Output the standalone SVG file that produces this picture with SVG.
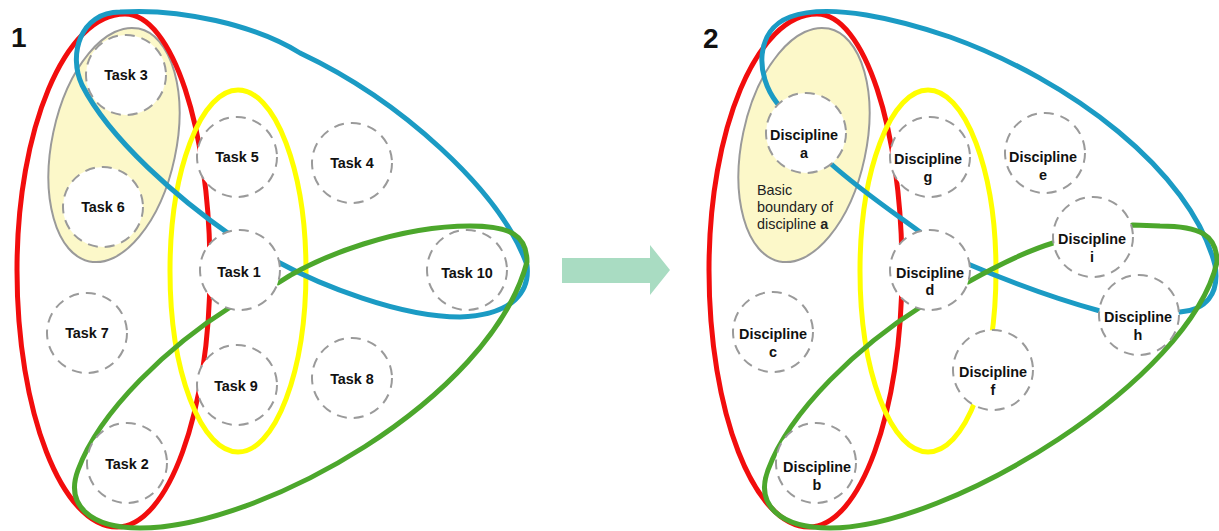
<svg xmlns="http://www.w3.org/2000/svg" width="1219" height="531" viewBox="0 0 1219 531">
  <style>
    .bg { fill: #ffffff; }
    .basic { fill: #fcf8c9; stroke: #9a9a9a; stroke-width: 2; }
    .loop { fill: none; stroke-width: 5; stroke-linejoin: round; stroke-linecap: round; }
    .red { stroke: #f20d0d; }
    .yellow { stroke: #ffff00; }
    .blue { stroke: #1b9bc4; }
    .green { stroke: #4ca72c; }
    .node circle { fill: #ffffff; stroke: #9a9a9a; stroke-width: 2; stroke-dasharray: 10 7; }
    .label { font-family: "Liberation Sans", Arial, sans-serif; font-size: 14.4px; font-weight: bold; fill: #111111; text-anchor: middle; }
    .note { font-family: "Liberation Sans", Arial, sans-serif; font-size: 14.4px; fill: #222222; }
    .num { font-family: "Liberation Sans", Arial, sans-serif; font-size: 28px; font-weight: bold; fill: #111111; }
    .arrow { fill: #a9dcc2; }
  </style>

  <rect class="bg" x="0" y="0" width="1219" height="531"/>

  <!-- panel numbers -->
  <text class="num" x="11" y="47">1</text>
  <text class="num" x="703" y="48">2</text>

  <!-- basic boundary shapes (pale ellipses) -->
  <g id="boundary-basic">
    <ellipse class="basic" cx="114" cy="145" rx="62" ry="119" transform="rotate(12 114 145)"/>
    <ellipse class="basic" cx="804" cy="145" rx="62" ry="119" transform="rotate(12 804 145)"/>
  </g>

  <!-- coloured boundary loops -->
  <g id="loops">
    <!-- red egg-shaped boundaries -->
    <path class="loop red" d="M 125,14 C 172,14 210,129 210,270 C 210,412 168,527 117,527 C 62,527 17,412 17,270 C 17,129 65,14 125,14 Z"/>
    <path class="loop red" d="M 125,14 C 172,14 210,129 210,270 C 210,412 168,527 117,527 C 62,527 17,412 17,270 C 17,129 65,14 125,14 Z" transform="translate(692 0)"/>
    <ellipse class="loop yellow" cx="238" cy="271" rx="68" ry="181"/>
    <ellipse class="loop yellow" cx="928" cy="271" rx="68" ry="181"/>

    <!-- panel 1 blue loop through Task 1 -->
    <path class="loop blue" d="M 240,270 L 232,236 C 180,200 110,140 82,85 C 68,55 80,12 120,12 C 180,8 255,25 300,53 C 400,100 500,190 527,265 C 530,290 515,315 460,317 C 400,317 320,285 278,262 Z"/>
    <!-- panel 1 green loop through Task 1 -->
    <path class="loop green" d="M 240,270 L 232,306 C 170,345 100,410 78,470 C 65,505 90,528 140,528 C 260,528 490,400 527,262 C 527,235 510,226 470,226 C 400,226 320,255 278,283 Z"/>

    <!-- panel 2 blue loop: h - d - a and around -->
    <path class="loop blue" d="M 1139,315 L 1100,311 C 1060,300 1010,282 968,264 L 930,270 L 920,232 C 890,210 860,190 830,163 L 806,133 L 777,103 C 755,75 755,30 790,17 C 830,2 900,20 950,37 C 1070,80 1190,170 1215,265 C 1220,295 1205,310 1180,312 Z"/>
    <!-- panel 2 green loop: d - i and around -->
    <path class="loop green" d="M 930,270 L 922,306 C 860,345 790,410 768,470 C 755,505 780,528 830,528 C 950,528 1190,380 1217,262 C 1217,235 1200,226 1160,226 L 1133,225 L 1093,237 L 1053,243 C 1030,250 1000,264 968,282 Z"/>
  </g>

  <!-- transition arrow -->
  <polygon class="arrow" points="562,258 650,258 650,245 670,270 650,295 650,283 562,283"/>

  <!-- panel 1 task nodes -->
  <g id="task3" class="node"><circle cx="126" cy="75" r="40"/><text class="label" x="126" y="80">Task 3</text></g>
  <g id="task6" class="node"><circle cx="103" cy="207" r="40"/><text class="label" x="103" y="212">Task 6</text></g>
  <g id="task5" class="node"><circle cx="237" cy="157" r="40"/><text class="label" x="237" y="162">Task 5</text></g>
  <g id="task4" class="node"><circle cx="352" cy="163" r="40"/><text class="label" x="352" y="168">Task 4</text></g>
  <g id="task1" class="node"><circle cx="240" cy="270" r="40"/><text class="label" x="239" y="277">Task 1</text></g>
  <g id="task10" class="node"><circle cx="467" cy="270" r="40"/><text class="label" x="467" y="278">Task 10</text></g>
  <g id="task7" class="node"><circle cx="87" cy="333" r="40"/><text class="label" x="87" y="338">Task 7</text></g>
  <g id="task9" class="node"><circle cx="237" cy="385" r="40"/><text class="label" x="236" y="391">Task 9</text></g>
  <g id="task8" class="node"><circle cx="352" cy="378" r="40"/><text class="label" x="352" y="384">Task 8</text></g>
  <g id="task2" class="node"><circle cx="127" cy="463" r="40"/><text class="label" x="127" y="469">Task 2</text></g>

  <!-- panel 2 discipline nodes -->
  <g id="disc-a" class="node"><circle cx="806" cy="133" r="40"/><text class="label" x="804" y="140">Discipline</text><text class="label" x="804" y="158">a</text></g>
  <g id="disc-g" class="node"><circle cx="930" cy="157" r="40"/><text class="label" x="928" y="164">Discipline</text><text class="label" x="928" y="182">g</text></g>
  <g id="disc-e" class="node"><circle cx="1045" cy="153" r="40"/><text class="label" x="1043" y="162">Discipline</text><text class="label" x="1043" y="180">e</text></g>
  <g id="disc-i" class="node"><circle cx="1093" cy="237" r="40"/><text class="label" x="1092" y="244">Discipline</text><text class="label" x="1092" y="262">i</text></g>
  <g id="disc-d" class="node"><circle cx="930" cy="270" r="40"/><text class="label" x="930" y="278">Discipline</text><text class="label" x="930" y="295">d</text></g>
  <g id="disc-h" class="node"><circle cx="1139" cy="315" r="40"/><text class="label" x="1138" y="322">Discipline</text><text class="label" x="1138" y="340">h</text></g>
  <g id="disc-c" class="node"><circle cx="773" cy="332" r="40"/><text class="label" x="773" y="339">Discipline</text><text class="label" x="773" y="357">c</text></g>
  <g id="disc-f" class="node"><circle cx="993" cy="370" r="40"/><text class="label" x="993" y="377">Discipline</text><text class="label" x="993" y="395">f</text></g>
  <g id="disc-b" class="node"><circle cx="816" cy="463" r="40"/><text class="label" x="817" y="472">Discipline</text><text class="label" x="817" y="490">b</text></g>

  <!-- note inside the basic boundary of discipline a -->
  <g id="basic-note">
    <text class="note" x="757" y="195">Basic</text>
    <text class="note" x="757" y="212">boundary of</text>
    <text class="note" x="757" y="229">discipline <tspan font-weight="bold">a</tspan></text>
  </g>
</svg>
